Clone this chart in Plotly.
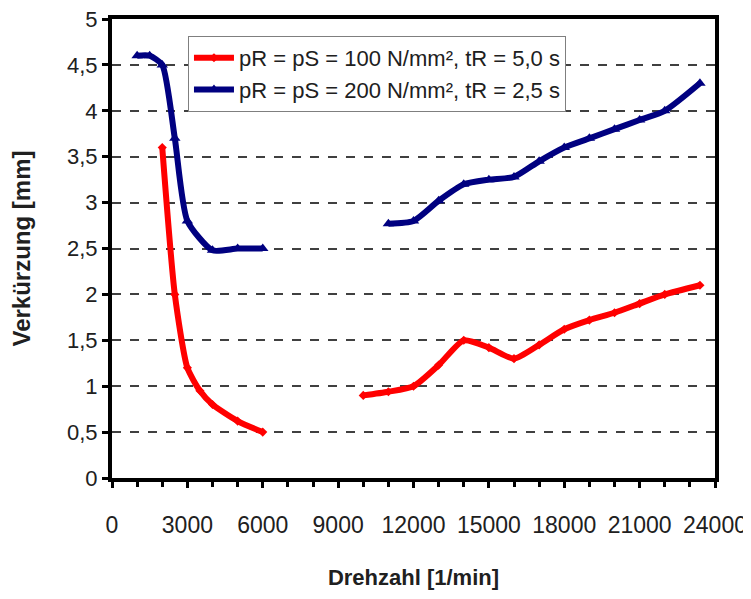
import plotly.graph_objects as go

# Data
red_x1 = [2000, 2500, 3000, 3500, 4000, 5000, 6000]
red_y1 = [3.6, 2.0, 1.2, 0.95, 0.8, 0.62, 0.5]
red_x2 = [10000, 11000, 12000, 13000, 14000, 15000, 16000, 17000, 18000, 19000, 20000, 21000, 22000, 23400]
red_y2 = [0.9, 0.94, 1.0, 1.23, 1.5, 1.42, 1.3, 1.45, 1.62, 1.72, 1.8, 1.9, 2.0, 2.1]

blue_x1 = [1000, 1500, 2000, 2500, 3000, 4000, 5000, 6000]
blue_y1 = [4.6, 4.6, 4.5, 3.7, 2.8, 2.48, 2.5, 2.5]
blue_x2 = [11000, 12000, 13000, 14000, 15000, 16000, 17000, 18000, 19000, 20000, 21000, 22000, 23400]
blue_y2 = [2.77, 2.8, 3.02, 3.2, 3.25, 3.28, 3.45, 3.6, 3.7, 3.8, 3.9, 4.0, 4.3]

x_ticks = [0, 3000, 6000, 9000, 12000, 15000, 18000, 21000, 24000]
x_tick_labels = ["0", "3000", "6000", "9000", "12000", "15000", "18000", "21000", "24000"]
y_ticks = [0, 0.5, 1, 1.5, 2, 2.5, 3, 3.5, 4, 4.5, 5]
y_tick_labels = ["0", "0,5", "1", "1,5", "2", "2,5", "3", "3,5", "4", "4,5", "5"]

name_red = "pR = pS = 100 N/mm², tR = 5,0 s"
name_blue = "pR = pS = 200 N/mm², tR = 2,5 s"

RED = "#FF0000"
BLUE = "#000080"

fig = go.Figure()

def add(xs, ys, color, symbol, msize, name, show):
    fig.add_trace(go.Scatter(
        x=xs, y=ys, mode="lines+markers", name=name, showlegend=show,
        legendgroup=name,
        line=dict(color=color, width=6, shape="spline", smoothing=0.6),
        marker=dict(color=color, symbol=symbol, size=msize),
    ))

add(red_x1, red_y1, RED, "diamond", 7, name_red, True)
add(red_x2, red_y2, RED, "diamond", 7, name_red, False)
add(blue_x1, blue_y1, BLUE, "triangle-up", 10, name_blue, True)
add(blue_x2, blue_y2, BLUE, "triangle-up", 10, name_blue, False)

font_main = "Liberation Sans, Arial, sans-serif"
font_narrow = "Liberation Sans Narrow, Arial Narrow, Liberation Sans, sans-serif"

fig.update_layout(
    width=751, height=599,
    margin=dict(l=104, r=44, t=11, b=129),
    paper_bgcolor="white", plot_bgcolor="white",
    font=dict(family=font_main, size=20, color="black"),
    showlegend=True,
    legend=dict(
        x=0.126, y=0.963, xanchor="left", yanchor="top",
        bgcolor="white", bordercolor="#7f7f7f", borderwidth=1,
        font=dict(size=22, family=font_main, color="#202020"),
        tracegroupgap=0, itemwidth=40,
    ),
    xaxis=dict(
        range=[0, 24000], automargin=False,
        tickmode="array", tickvals=x_ticks, ticktext=x_tick_labels,
        ticks="outside", ticklen=6, tickwidth=3, tickcolor="black",
        minor=dict(dtick=1000, tick0=0, ticks="outside", ticklen=5, tickwidth=3, tickcolor="black", showgrid=False),
        showgrid=False, zeroline=False,
        showline=True, linewidth=4, linecolor="black", mirror=True,
        ticklabelstandoff=17, ticklabeloverflow="allow",
        tickfont=dict(size=23, family=font_narrow, color="#202020"),
        title=dict(text="<b>Drehzahl [1/min]</b>", font=dict(size=22, family=font_main, color="#202020"), standoff=34),
    ),
    yaxis=dict(
        range=[0, 5], automargin=False,
        tickmode="array", tickvals=y_ticks, ticktext=y_tick_labels,
        ticks="outside", ticklen=6, tickwidth=3, tickcolor="black",
        showgrid=True, gridcolor="#404040", gridwidth=1.5, griddash="dash",
        zeroline=False,
        showline=True, linewidth=4, linecolor="black", mirror=True,
        ticklabeloverflow="allow",
        tickfont=dict(size=22, family=font_narrow, color="#202020"),
        title=dict(text="<b>Verkürzung [mm]</b>", font=dict(size=24, family=font_main, color="#202020"), standoff=42),
    ),
)

fig.write_html("out.html")
